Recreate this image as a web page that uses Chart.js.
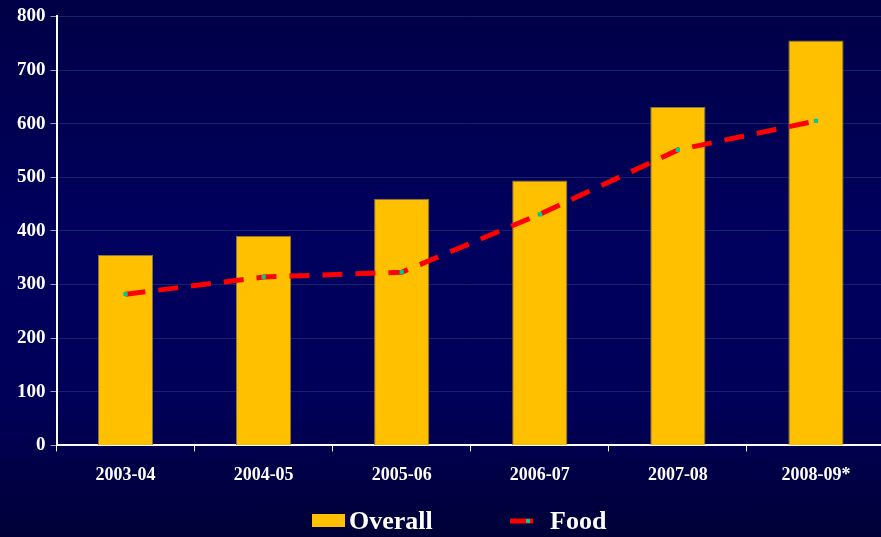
<!DOCTYPE html>
<html>
<head>
<meta charset="utf-8">
<script src="https://cdn.jsdelivr.net/npm/chart.js@4"></script>
<style>
  html, body { margin: 0; padding: 0; }
  body {
    width: 881px; height: 537px; overflow: hidden;
    background: linear-gradient(to bottom, #000046 0%, #00005e 45%, #000058 75%, #000038 100%);
  }
</style>
</head>
<body>
<canvas id="chart" width="889" height="537"></canvas>
<script>
const years = ['2003-04', '2004-05', '2005-06', '2006-07', '2007-08', '2008-09*'];
const overall = [355, 391, 460, 494, 631, 755];
const food = [282, 314, 323, 431, 551, 605];

const serif = "'Liberation Serif', 'Times New Roman', serif";

// legend drawn by hand so the swatches look like the original
const bottomLegend = {
    id: 'bottomLegend',
    afterDraw(chart) {
        const ctx = chart.ctx;
        const sets = chart.data.datasets;
        const barSet = sets.find(d => d.type === 'bar');
        const lineSet = sets.find(d => d.type === 'line');
        const y = 521;
        ctx.save();
        ctx.font = 'bold 26px ' + serif;
        ctx.textBaseline = 'middle';

        // Overall
        ctx.fillStyle = barSet.backgroundColor;
        ctx.fillRect(312, y - 7, 33, 13);
        ctx.fillStyle = '#ffffff';
        ctx.fillText(barSet.label, 349, y + 1);

        // Food
        ctx.strokeStyle = lineSet.borderColor;
        ctx.lineWidth = 5;
        ctx.beginPath();
        ctx.moveTo(510, y);
        ctx.lineTo(533, y);
        ctx.stroke();
        ctx.fillStyle = lineSet.pointBackgroundColor;
        ctx.fillRect(526, y - 2, 4, 4);
        ctx.fillStyle = '#ffffff';
        ctx.fillText(lineSet.label, 550, y + 1);
        ctx.restore();
    }
};

new Chart(document.getElementById('chart').getContext('2d'), {
    data: {
        labels: years,
        datasets: [{
            type: 'line',
            label: 'Food',
            data: food,
            borderColor: '#ff0000',
            borderWidth: 5,
            borderDash: [20, 13],
            pointStyle: 'rect',
            pointRadius: 3,
            pointBorderWidth: 0,
            pointBackgroundColor: '#00c896',
            tension: 0,
            order: 0
        }, {
            type: 'bar',
            label: 'Overall',
            data: overall,
            backgroundColor: '#ffc000',
            borderColor: '#8a7440',
            borderWidth: 1,
            barPercentage: 0.4,
            categoryPercentage: 1,
            order: 1
        }]
    },
    options: {
        responsive: false,
        animation: false,
        layout: { padding: { top: 8, left: 12, right: 0, bottom: 38 } },
        plugins: {
            legend: { display: false },
            tooltip: { enabled: false }
        },
        scales: {
            x: {
                offset: true,
                grid: {
                    offset: true,
                    drawOnChartArea: false,
                    color: '#ffffff',
                    tickLength: 6
                },
                border: { color: '#ffffff', width: 2 },
                ticks: {
                    color: '#ffffff',
                    font: { family: serif, weight: 'bold', size: 18 },
                    padding: 13
                }
            },
            y: {
                min: 0,
                max: 800,
                ticks: {
                    stepSize: 100,
                    color: '#ffffff',
                    font: { family: serif, weight: 'bold', size: 19 },
                    padding: 5
                },
                grid: {
                    color: '#14246a',
                    tickColor: '#9a9ab0',
                    tickLength: 6
                },
                border: { color: '#ffffff', width: 2 }
            }
        }
    },
    plugins: [bottomLegend]
});
</script>
</body>
</html>
